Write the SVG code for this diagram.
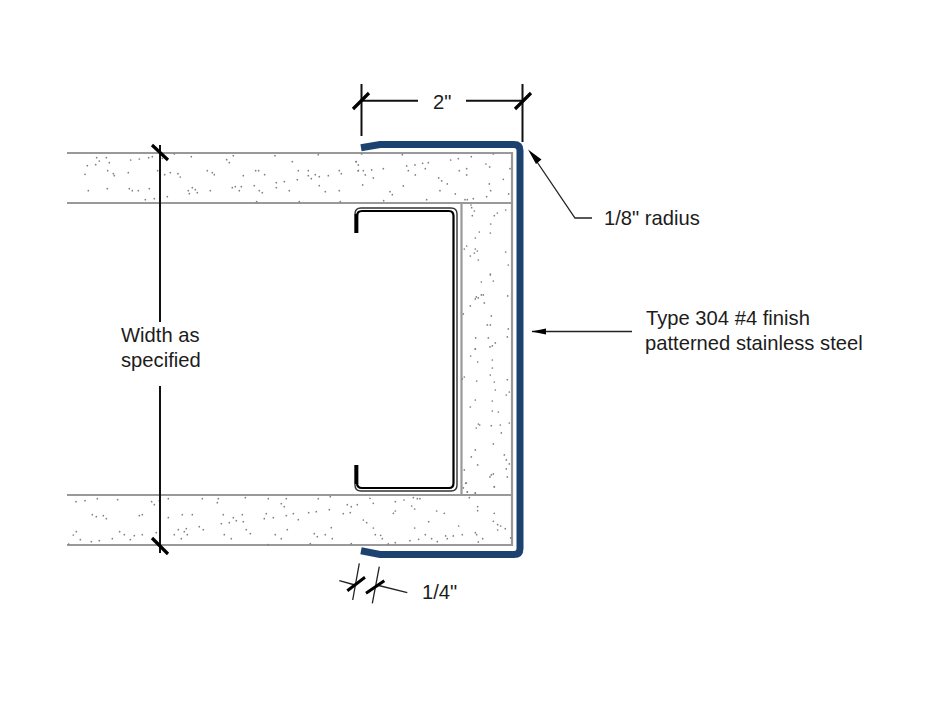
<svg xmlns="http://www.w3.org/2000/svg" width="936" height="702" viewBox="0 0 936 702">
<style>
text{font-family:"Liberation Sans",Arial,sans-serif;font-size:20.2px;fill:#1c1c1c}
.board{fill:none;stroke:#999;stroke-width:2.2}
.dots{fill:none;stroke:#808080;stroke-width:5.2;stroke-linecap:round}
.blue{fill:none;stroke:#1c4370;stroke-width:7}
.dim{fill:none;stroke:#111;stroke-width:2}
.tick{fill:none;stroke:#000;stroke-width:3.2}
.lead{fill:none;stroke:#222;stroke-width:1.3}
</style>
<rect width="936" height="702" fill="#fff"/>
<g id="boards">
<path class="board" d="M67 153H512V545H67M67 203H512M67 495H512M461.5 203V495"/>
<path class="dots" transform="translate(60 130) scale(.3333)" d="M110 83h0M139 83h0M118 93h0M148 98h0M107 104h0M82 107h0M75 133h0M143 122h0M160 131h0M163 137h0M205 128h0M212 90h0M238 87h0M266 83h0M277 80h0M293 122h0M314 134h0M331 128h0M354 131h0M361 141h0M343 72h0M394 80h0M442 122h0M457 128h0M463 134h0M500 89h0M520 77h0M508 98h0M550 137h0M587 122h0M596 122h0M614 134h0M645 77h0M697 95h0M715 122h0M745 122h0M775 74h0M745 137h0M754 146h0M766 134h0M778 140h0M805 137h0M838 122h0M844 131h0M889 95h0M895 122h0M712 149h0M649 158h0M673 155h0M649 173h0M583 167h0M598 182h0M607 188h0M688 182h0M778 167h0M796 185h0M838 182h0M85 182h0M142 176h0M208 176h0M217 182h0M235 182h0M268 176h0M256 209h0M283 206h0M322 200h0M385 182h0M397 173h0M406 179h0M412 188h0M388 191h0M451 182h0M517 173h0M526 170h0M544 170h0M538 182h0M590 215h0M718 215h0M841 215h0M307 85h0"/>
<path class="dots" transform="translate(340 80) scale(.3333)" d="M65 222h0M187 224h0M48 245h0M55 255h0M55 272h0M70 272h0M76 285h0M95 270h0M100 294h0M130 266h0M200 258h0M205 272h0M225 255h0M226 285h0M248 250h0M265 248h0M256 266h0M332 240h0M355 236h0M394 230h0M460 222h0M438 252h0M449 261h0M380 266h0M358 272h0M380 285h0M296 294h0M305 303h0M322 312h0M490 298h0M448 312h0M510 266h0M452 332h0M506 342h0M68 315h0M150 335h0M157 344h0M190 318h0M300 332h0M346 342h0M440 350h0M400 356h0M375 359h0M382 359h0M260 359h0M131 362h0"/>
<path class="dots" transform="translate(455 200) scale(.3333)" d="M48 15h0M50 23h0M58 33h0M52 47h0M127 39h0M118 47h0M152 30h0M107 72h0M73 96h0M106 99h0M61 114h0M35 138h0M28 147h0M61 147h0M67 153h0M58 159h0M46 168h0M70 180h0M152 156h0M160 195h0M106 222h0M106 225h0M79 246h0M115 243h0M79 285h0M85 285h0M64 291h0M70 294h0M61 297h0M158 288h0M88 309h0M46 318h0M25 342h0M109 348h0M97 375h0M106 375h0M160 387h0M157 411h0M62 414h0M100 414h0M121 429h0M112 438h0M105 441h0M61 447h0"/>
<path class="dots" transform="translate(455 345) scale(.3333)" d="M61 12h0M47 33h0M68 51h0M112 45h0M112 69h0M106 90h0M28 96h0M22 102h0M65 108h0M118 111h0M157 104h0M121 135h0M163 141h0M154 150h0M61 165h0M112 168h0M46 186h0M112 198h0M130 201h0M70 237h0M74 240h0M109 242h0M64 249h0M136 240h0M163 234h0M139 264h0M115 297h0M61 315h0M148 330h0M49 336h0M154 345h0M68 360h0M163 357h0M28 375h0M154 372h0M115 387h0M109 390h0M105 396h0M157 396h0M34 414h0M118 426h0M25 429h0M37 441h0M61 444h0"/>
<path class="dots" transform="translate(330 450) scale(.3333)" d="M407 100h0M412 126h0M436 129h0M493 110h0M120 145h0M130 160h0M196 155h0M222 150h0M250 143h0M262 146h0M270 146h0M245 168h0M254 177h0M320 183h0M343 190h0M196 183h0M190 190h0M418 143h0M443 170h0M443 182h0M493 190h0M100 210h0M110 218h0M130 234h0M136 254h0M152 256h0M157 266h0M175 282h0M196 278h0M296 215h0M254 234h0M386 228h0M490 214h0M503 224h0M512 228h0M526 236h0M503 240h0M436 248h0M440 254h0M458 266h0M445 276h0M397 254h0M370 258h0M347 258h0M352 266h0M286 254h0M305 266h0M322 275h0M266 268h0M240 272h0M542 264h0"/>
<path class="dots" transform="translate(60 480) scale(.3333)" d="M48 65h0M75 62h0M112 56h0M173 59h0M275 65h0M298 62h0M283 74h0M325 56h0M427 56h0M475 56h0M472 68h0M556 53h0M625 56h0M679 56h0M664 71h0M673 80h0M775 56h0M811 50h0M862 74h0M874 80h0M892 74h0M97 104h0M109 110h0M130 107h0M139 116h0M238 107h0M247 104h0M325 113h0M367 104h0M397 104h0M490 104h0M520 113h0M547 104h0M529 122h0M508 128h0M484 131h0M550 125h0M619 101h0M613 116h0M640 113h0M679 107h0M700 101h0M715 119h0M746 98h0M769 95h0M808 89h0M850 101h0M871 98h0M49 155h0M40 165h0M61 179h0M94 185h0M118 182h0M157 176h0M179 155h0M193 164h0M211 179h0M223 167h0M247 164h0M289 158h0M418 140h0M430 149h0M379 146h0M355 149h0M373 155h0M343 164h0M382 164h0M364 176h0M493 164h0M514 176h0M559 149h0M571 161h0M646 164h0M664 176h0M682 149h0M763 161h0M772 170h0M796 164h0M814 143h0M817 176h0M625 194h0M751 191h0M874 191h0M26 192h0"/>
</g>
<g id="stud">
<path fill="none" stroke="#333" stroke-width="1.4" d="M355 233V214Q355 208 361 208H451Q457 208 457 214V485Q457 491 451 491H361Q355 491 355 485V465"/>
<path fill="none" stroke="#000" stroke-width="2.2" d="M357 233V216Q357 211 362 211H449Q453.500 211 453.500 216V483Q453.500 488 449 488H362Q357 488 357 483V465"/>
<path fill="none" stroke="#000" stroke-width="3.6" d="M356.500 214V233M356.500 465V484"/>
</g>
<g id="stainless-trim">
<path class="blue" d="M361 147.800L380 144.600H514Q520 144.600 520 150.600V548.400Q520 554.400 514 554.400H380L361 550.800"/>
</g>
<g id="connectors">
<path class="dim" d="M361.500 84V136M522.500 84V142M361 100.700H418M466 100.700H523M160 145V322M160 386V553"/>
<path class="tick" d="M353 109L369 93M515 109L531 93M152 145L168 160M152 538L168 554"/>
<path class="lead" d="M531 153L575 218H592M532 331.500H632"/>
<path fill="#000" d="M528 149.500L541.500 159.500L536 164ZM531.500 331.500L546 328.500V334.500Z"/>
<path class="lead" d="M359.300 563.300L352.700 600M379.300 566.700L372.300 603.300M339.300 580.700L355 585M376.700 585L407.300 592.700"/>
<path class="tick" d="M347.300 590.700L365 577.300M366 593.300L384.300 580.700" style="stroke-width:3"/>
</g>
<g id="labels">
<text x="433" y="109">2"</text>
<text x="604" y="225">1/8" radius</text>
<text x="646" y="325">Type 304 #4 finish</text>
<text x="645" y="350">patterned stainless steel</text>
<text x="121" y="342">Width as</text>
<text x="121" y="367">specified</text>
<text x="422" y="599">1/4"</text>
</g>
</svg>
